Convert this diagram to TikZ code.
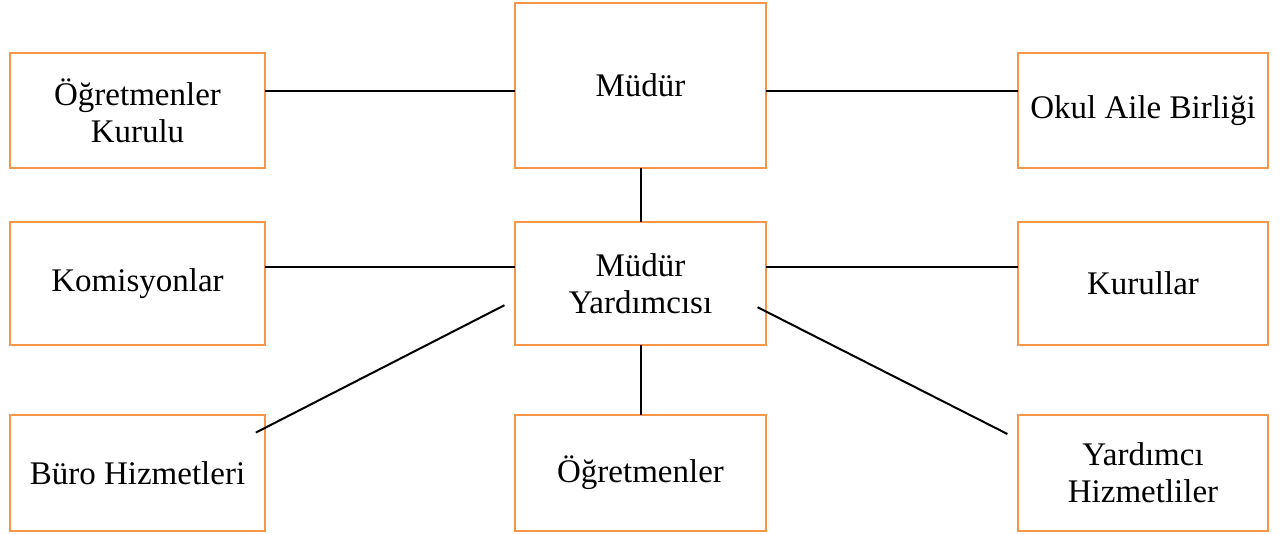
\documentclass[tikz,border=0pt]{standalone}
\usepackage{fontspec}
\setmainfont{Liberation Serif}
\definecolor{turuncu}{HTML}{F79646}

\tikzset{
    birim/.style={draw=turuncu, line width=1pt, outer sep=0pt,
      align=center, font=\fontsize{16.5}{18.5}\selectfont},
    yan/.style={birim, minimum width=127.5pt, minimum height=57.5pt},
    orta/.style={birim, minimum width=125.5pt},
    bag/.style={draw=black, line width=1pt}
}

\begin{document}
\begin{tikzpicture}[x=0.5pt, y=-0.5pt]
    \path [use as bounding box]
      (0, 0) rectangle (1284, 534);

    % ust sira
    \node[yan] (kurul) at (137.5, 110.5) {Öğretmenler\\Kurulu};
    \node[orta, minimum height=82.5pt] (mudur) at (640.5, 85.5) {Müdür};
    \node[yan, minimum width=125pt] (aile) at (1143, 110.5) {Okul Aile Birliği};

    % orta sira
    \node[yan, minimum height=61.25pt] (komisyon) at (137.5, 283.25) {Komisyonlar};
    \node[orta, minimum height=61.25pt] (yardimci) at (640.5, 283.25) {Müdür\\Yardımcısı};
    \node[yan, minimum width=125pt, minimum height=61.25pt] (kurullar) at (1143, 283.25) {Kurullar};

    % alt sira
    \node[yan, minimum height=58pt] (buro) at (137.5, 473) {Büro Hizmetleri};
    \node[orta, minimum height=58pt] (ogretmen) at (640.5, 473) {Öğretmenler};
    \node[yan, minimum width=125pt, minimum height=58pt] (hizmetli) at (1143, 473) {Yardımcı\\Hizmetliler};

    \draw[bag] ([yshift=9.9pt]kurul.east) -- ([yshift=9.9pt]kurul.east -| mudur.west);
    \draw[bag] ([yshift=9.9pt]aile.west) -- ([yshift=9.9pt]aile.west -| mudur.east);
    \draw[bag] (mudur.south) -- (yardimci.north);
    \draw[bag] ([yshift=8pt]komisyon.east) -- ([yshift=8pt]komisyon.east -| yardimci.west);
    \draw[bag] ([yshift=8pt]kurullar.west) -- ([yshift=8pt]kurullar.west -| yardimci.east);
    \draw[bag] (yardimci.south) -- (ogretmen.north);
    \draw[bag] ([xshift=-5.3pt, yshift=-11pt]yardimci.west)
      -- ([xshift=-4.6pt, yshift=-8.8pt]buro.north east);
    \draw[bag] ([xshift=-4.2pt, yshift=-12pt]yardimci.east)
      -- ([xshift=-5.3pt, yshift=-9.5pt]hizmetli.north west);

\end{tikzpicture}
\end{document}
